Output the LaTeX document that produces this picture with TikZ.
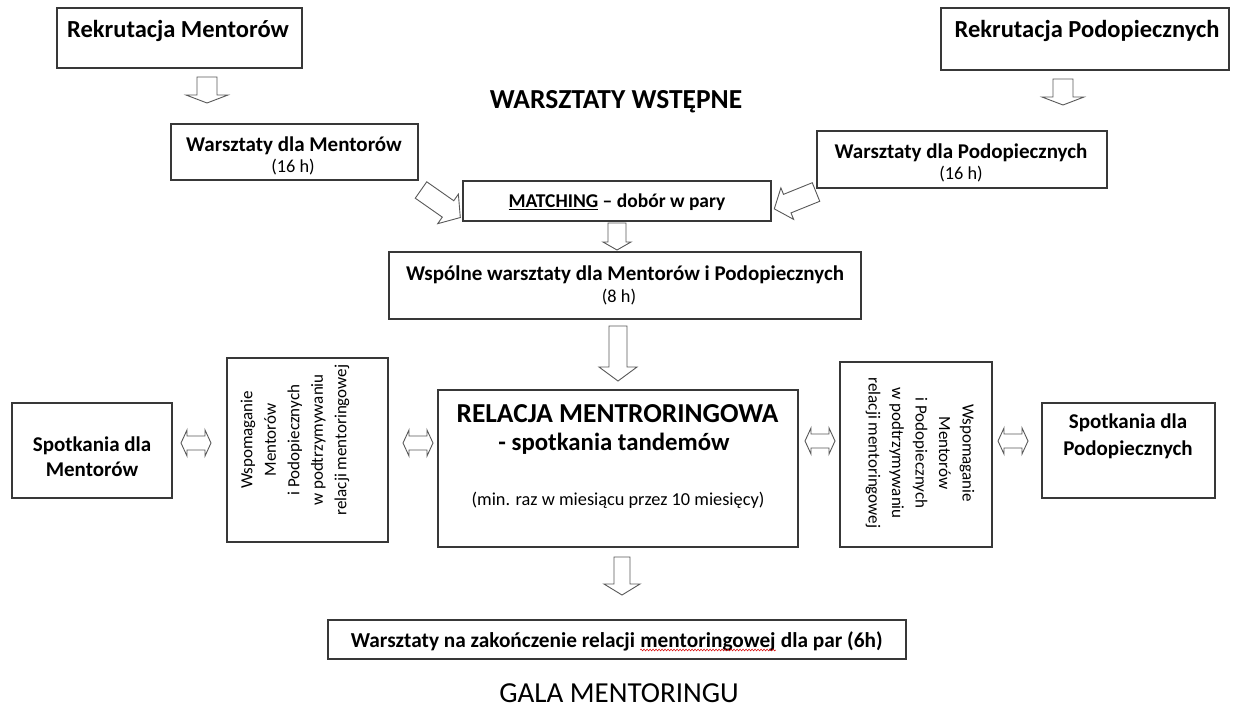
\documentclass[tikz,border=0pt]{standalone}
\usepackage{fontspec}
\setmainfont{Carlito}
\usetikzlibrary{decorations.pathmorphing}

\tikzset{
  box/.style={draw=black!78, line width=1.1pt, fill=white, inner sep=0pt},
  lbl/.style={inner sep=0pt, anchor=base, text=black},
  tbig/.style={lbl, font=\fontsize{24.5}{28}\selectfont\bfseries},
  tmid/.style={lbl, font=\fontsize{21}{25}\selectfont\bfseries},
  tsmallb/.style={lbl, font=\fontsize{19.5}{23}\selectfont\bfseries},
  tnote/.style={lbl, font=\fontsize{18.3}{22}\selectfont},
  ttitle/.style={lbl, font=\fontsize{27.5}{32}\selectfont\bfseries},
  tgala/.style={lbl, font=\fontsize{29}{33}\selectfont},
  tside/.style={inner sep=0pt, align=center, font=\fontsize{17}{23.5}\selectfont},
  blockarrow/.style={draw=black!65, fill=white, line width=0.9pt, line join=miter},
  spellwave/.style={draw=red!85!black, line width=0.5pt, decorate,
    decoration={snake, amplitude=0.9pt, segment length=3pt}},
  % single block arrow: tail at the origin, pointing along +x
  % #1 length, #2 shaft half width, #3 head half width, #4 head length
  pics/onearrow/.style n args={4}{code={
    \draw[blockarrow] (0,-#2) -- ({#1-#4},-#2) -- ({#1-#4},-#3) -- (#1,0)
      -- ({#1-#4},#3) -- ({#1-#4},#2) -- (0,#2) -- cycle;
  }},
  % double block arrow centred on the origin
  pics/twoarrow/.style n args={4}{code={
    \draw[blockarrow] ({-#1/2},0) -- ({-#1/2+#4},-#3) -- ({-#1/2+#4},-#2)
      -- ({#1/2-#4},-#2) -- ({#1/2-#4},-#3) -- ({#1/2},0) -- ({#1/2-#4},#3)
      -- ({#1/2-#4},#2) -- ({-#1/2+#4},#2) -- ({-#1/2+#4},#3) -- cycle;
  }},
}

\begin{document}
\begin{tikzpicture}[x=1pt, y=-1pt]
\useasboundingbox[fill=white] (0,0) rectangle (1237,710);

% ---- recruitment ----
\node[box, minimum width=245, minimum height=60] (rm) at (179.5,38) {};
\node[tbig] (rmt) at (178,37.5) {Rekrutacja Mentorów};
\node[box, minimum width=288, minimum height=62] (rp) at (1085,39) {};
\node[tbig] (rpt) at (1087,37.5) {Rekrutacja Podopiecznych};

\pic at (207,77) [rotate=-90] {onearrow={26}{10}{21}{8}};
\pic at (1063,79) [rotate=-90] {onearrow={26}{10}{21}{8}};

\node[ttitle] (ws0) at (616,108) {WARSZTATY WSTĘPNE};

% ---- introductory workshops ----
\node[box, minimum width=247, minimum height=56] (wm) at (294.5,152) {};
\node[tmid] (wm1) at (294,151) {Warsztaty dla Mentorów};
\node[tnote] (wm2) at (293,172) {(16 h)};

\node[box, minimum width=290, minimum height=57] (wp) at (962,159.5) {};
\node[tmid] (wp1) at (961,158) {Warsztaty dla Podopiecznych};
\node[tnote] (wp2) at (961,179) {(16 h)};

\node[box, minimum width=308, minimum height=40] (mt) at (617,201) {};
\node[tsmallb] (mtt) at (617,207.5) {\underline{MATCHING} – dobór w pary};

\pic at (421,190) [rotate=-35] {onearrow={48}{10}{18}{15}};
\pic at (816,192) [rotate=-158] {onearrow={45}{10}{17}{14}};
\pic at (617,223) [rotate=-90] {onearrow={27}{9}{14}{8}};

\node[box, minimum width=472, minimum height=67] (ws) at (625,285.5) {};
\node[tmid] (ws1) at (625,280) {Wspólne warsztaty dla Mentorów i Podopiecznych};
\node[tnote] (ws2) at (619,302) {(8 h)};

\pic at (618,326) [rotate=-90] {onearrow={55}{9}{19}{14}};

% ---- mentoring relation row ----
\node[box, minimum width=160, minimum height=95] (sm) at (92,450.5) {};
\node[tmid] (sm1) at (92,451) {Spotkania dla};
\node[tmid] (sm2) at (92,476) {Mentorów};

\pic at (196,443) {twoarrow={30}{7}{13}{6}};

\node[box, minimum width=161, minimum height=184] (wl) at (307.5,450) {};
\node[tside, rotate=90] (wlt) at (295,440)
  {Wspomaganie\\Mentorów\\i Podopiecznych\\w podtrzymywaniu\\relacji mentoringowej};

\pic at (418,443) {twoarrow={30}{7}{13}{6}};

\node[box, minimum width=360, minimum height=157] (rel) at (618,468.5) {};
\node[lbl, font=\fontsize{27.4}{31}\selectfont\bfseries] (rel1) at (617.5,422) {RELACJA MENTRORINGOWA};
\node[lbl, font=\fontsize{24.8}{29}\selectfont\bfseries] (rel2) at (614,450) {- spotkania tandemów};
\node[tnote] (rel3) at (618,505) {(min. raz w miesiącu przez 10 miesięcy)};

\pic at (820,441) {twoarrow={30}{7}{13}{6}};

\node[box, minimum width=152, minimum height=185] (wr) at (916,454.5) {};
\node[tside, rotate=-90] (wrt) at (920,453)
  {Wspomaganie\\Mentorów\\i Podopiecznych\\w podtrzymywaniu\\relacji mentoringowej};

\pic at (1013,441) {twoarrow={30}{7}{13}{6}};

\node[box, minimum width=173, minimum height=95] (sp) at (1128.5,450.5) {};
\node[tmid] (sp1) at (1128,428) {Spotkania dla};
\node[tmid] (sp2) at (1128,455) {Podopiecznych};

\pic at (622,557) [rotate=-90] {onearrow={38}{8}{18}{11}};

% ---- closing ----
\node[box, minimum width=578, minimum height=39] (zk) at (617,639.5) {};
\node[tmid, font=\fontsize{21.3}{25}\selectfont\bfseries] (zk2) at (708,647) {mentoringowej};
\node[tmid, font=\fontsize{21.3}{25}\selectfont\bfseries, anchor=base east] (zk1)
  at ([xshift=-4.8pt]zk2.base west) {Warsztaty na zakończenie relacji};
\node[tmid, font=\fontsize{21.3}{25}\selectfont\bfseries, anchor=base west] (zk3)
  at ([xshift=4.8pt]zk2.base east) {dla par (6h)};
\draw[spellwave] ([yshift=-3pt]zk2.base west) -- ([yshift=-3pt]zk2.base east);

\node[tgala] (gala) at (619,702) {GALA MENTORINGU};
\end{tikzpicture}
\end{document}
